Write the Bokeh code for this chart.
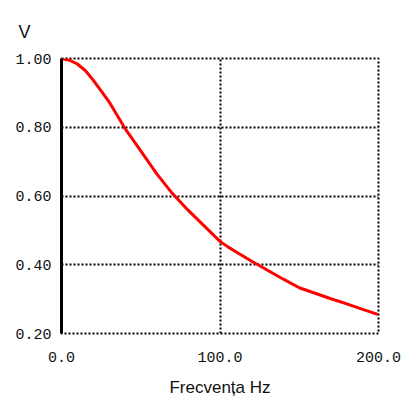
from bokeh.plotting import figure
from bokeh.models import Range1d, FixedTicker
from bokeh.embed import file_html
from bokeh.resources import INLINE

freq = [0, 5, 10, 15, 20, 25, 30, 40, 50, 60, 70, 80, 90, 100, 105, 110, 120, 130, 140, 150, 160, 170, 180, 190, 200]
volt = [1.00, 0.995, 0.984, 0.965, 0.937, 0.906, 0.874, 0.797, 0.731, 0.665, 0.607, 0.558, 0.513, 0.468, 0.452, 0.438, 0.410, 0.384, 0.358, 0.333, 0.317, 0.301, 0.286, 0.270, 0.255]

x_ticks = [0, 100, 200]
x_labels = ["0.0", "100.0", "200.0"]
y_ticks = [0.2, 0.4, 0.6, 0.8, 1.0]
y_labels = ["0.20", "0.40", "0.60", "0.80", "1.00"]

p = figure(width=407, height=400, output_backend="svg", toolbar_location=None,
           x_range=Range1d(0, 200), y_range=Range1d(0.2, 1.0),
           min_border_left=61, min_border_right=29, min_border_top=58, min_border_bottom=67,
           title="V")
p.background_fill_color = "white"
p.border_fill_color = "white"

p.title.align = "left"
p.title.offset = -43
p.title.standoff = 34
p.title.text_font = "Liberation Sans"
p.title.text_font_size = "18px"
p.title.text_font_style = "normal"
p.title.text_color = "#111111"

p.outline_line_color = "black"
p.outline_line_dash = "2 2"
p.outline_line_width = 2

p.xgrid.ticker = FixedTicker(ticks=x_ticks)
p.ygrid.ticker = FixedTicker(ticks=y_ticks)
for g in (p.xgrid, p.ygrid):
    g.grid_line_color = "black"
    g.grid_line_dash = "2 2"
    g.grid_line_width = 2

p.line(freq, volt, line_color="red", line_width=3)

xa = p.xaxis[0]
xa.ticker = FixedTicker(ticks=x_ticks)
xa.major_label_overrides = {t: l for t, l in zip(x_ticks, x_labels)}
xa.axis_line_color = None
xa.major_tick_line_color = None
xa.minor_tick_line_color = None
xa.major_label_standoff = 12
xa.major_label_text_font = "Liberation Mono"
xa.major_label_text_font_size = "15px"
xa.major_label_text_color = "#111111"
xa.axis_label = "Frecvența Hz"
xa.axis_label_text_font = "Liberation Sans"
xa.axis_label_text_font_size = "17px"
xa.axis_label_text_font_style = "normal"
xa.axis_label_text_color = "#111111"
xa.axis_label_standoff = 13

ya = p.yaxis[0]
ya.ticker = FixedTicker(ticks=y_ticks)
ya.major_label_overrides = {t: l for t, l in zip(y_ticks, y_labels)}
ya.axis_line_color = "black"
ya.axis_line_width = 3
ya.major_tick_line_color = None
ya.minor_tick_line_color = None
ya.major_label_standoff = 4
ya.major_label_text_font = "Liberation Mono"
ya.major_label_text_font_size = "15px"
ya.major_label_text_color = "#111111"

open("out.html", "w").write(file_html(p, INLINE))
